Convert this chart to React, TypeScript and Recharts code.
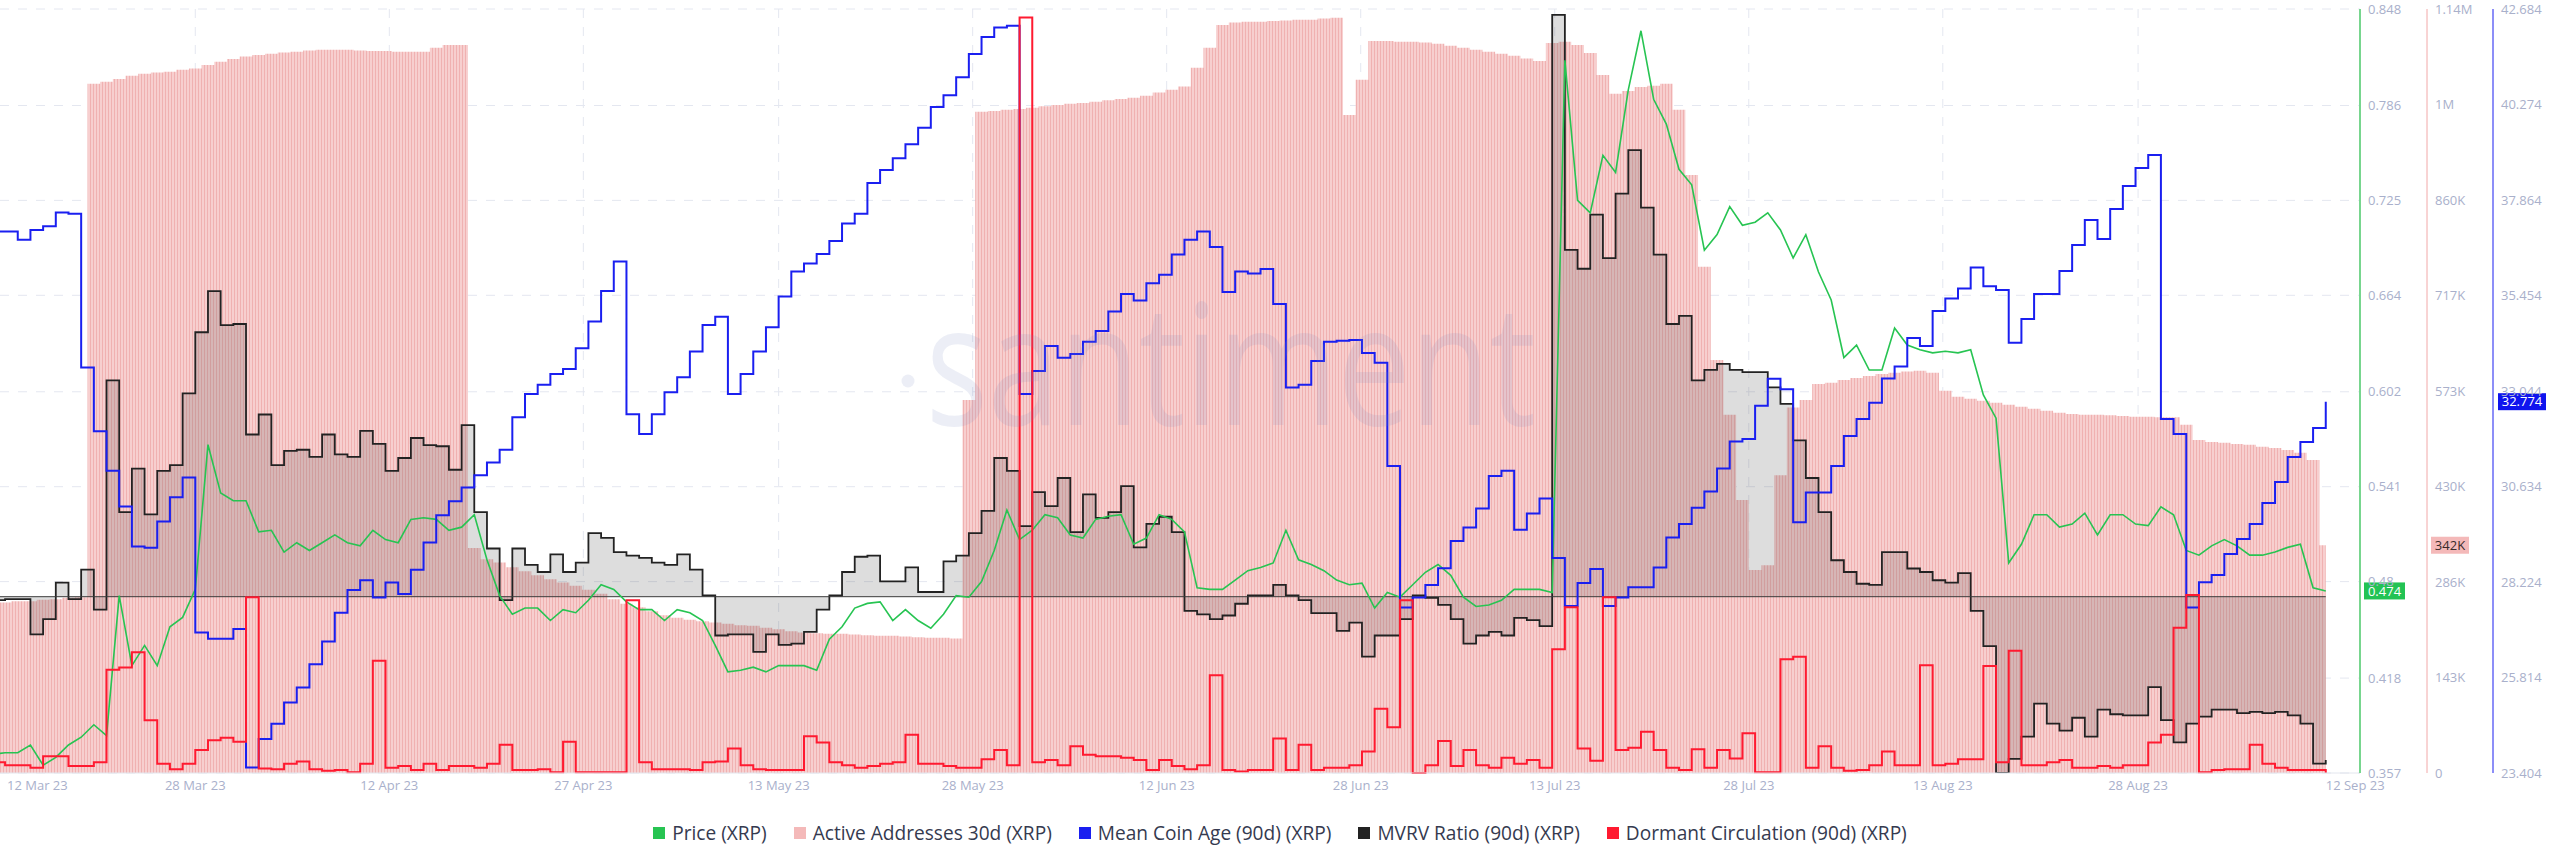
import React from 'react';
import {
  ComposedChart,
  Area,
  Line,
  XAxis,
  YAxis,
  CartesianGrid,
  ReferenceLine,
  Legend,
} from 'recharts';

// one value per day, index 0 = 12 Mar 23 ... index 184 = 12 Sep 23
const price = [
  0.369, 0.37, 0.37, 0.375, 0.362, 0.367, 0.375, 0.38, 0.388, 0.381,
  0.471, 0.426, 0.439, 0.426, 0.451, 0.457, 0.475, 0.568, 0.537, 0.532,
  0.532, 0.512, 0.513, 0.499, 0.505, 0.5, 0.505, 0.51, 0.505, 0.503,
  0.513, 0.507, 0.505, 0.52, 0.521, 0.52, 0.513, 0.515, 0.523, 0.494,
  0.471, 0.459, 0.463, 0.463, 0.455, 0.462, 0.46, 0.468, 0.478, 0.475,
  0.467, 0.462, 0.462, 0.455, 0.462, 0.46, 0.455, 0.439, 0.422, 0.423,
  0.425, 0.422, 0.426, 0.426, 0.426, 0.423, 0.443, 0.451, 0.463, 0.466,
  0.467, 0.455, 0.462, 0.455, 0.45, 0.459, 0.471, 0.47, 0.48, 0.5,
  0.526, 0.507, 0.513, 0.523, 0.521, 0.51, 0.508, 0.52, 0.522, 0.523,
  0.504, 0.508, 0.523, 0.52, 0.512, 0.476, 0.475, 0.475, 0.481, 0.487,
  0.489, 0.492, 0.513, 0.494, 0.491, 0.487, 0.481, 0.478, 0.479, 0.463,
  0.473, 0.47, 0.478, 0.486, 0.491, 0.484, 0.47, 0.464, 0.465, 0.468,
  0.475, 0.475, 0.475, 0.473, 0.815, 0.725, 0.717, 0.754, 0.743, 0.796,
  0.834, 0.79, 0.774, 0.745, 0.735, 0.693, 0.703, 0.721, 0.709, 0.711,
  0.717, 0.706, 0.688, 0.703, 0.679, 0.661, 0.624, 0.632, 0.616, 0.616,
  0.643, 0.632, 0.629, 0.627, 0.628, 0.627, 0.629, 0.6, 0.585, 0.492,
  0.504, 0.523, 0.523, 0.515, 0.517, 0.524, 0.51, 0.523, 0.523, 0.517,
  0.516, 0.528, 0.523, 0.5, 0.497, 0.503, 0.507, 0.503, 0.497, 0.497,
  0.499, 0.502, 0.504, 0.476, 0.474,
];

// thousands of addresses
const activeAddressesK = [
  256, 256, 258, 258, 260, 261, 263, 264, 1035, 1038,
  1042, 1047, 1050, 1052, 1053, 1056, 1058, 1063, 1068, 1072,
  1076, 1078, 1080, 1082, 1083, 1085, 1086, 1086, 1086, 1085,
  1084, 1084, 1083, 1083, 1083, 1089, 1093, 1093, 338, 321,
  316, 309, 303, 297, 291, 286, 281, 275, 269, 261,
  254, 249, 243, 237, 233, 230, 228, 226, 224, 222,
  221, 218, 216, 213, 211, 210, 209, 209, 208, 207,
  206, 206, 205, 204, 203, 203, 202, 560, 993, 994,
  996, 997, 999, 1001, 1003, 1005, 1006, 1008, 1010, 1012,
  1014, 1017, 1022, 1026, 1031, 1059, 1089, 1123, 1127, 1128,
  1128, 1129, 1130, 1131, 1131, 1133, 1134, 988, 1041, 1099,
  1099, 1098, 1098, 1097, 1095, 1092, 1089, 1086, 1083, 1080,
  1077, 1073, 1069, 1096, 1098, 1093, 1081, 1048, 1020, 1024,
  1030, 1032, 1035, 996, 898, 760, 620, 538, 410, 305,
  312, 447, 549, 560, 584, 586, 590, 593, 596, 599,
  601, 603, 604, 601, 574, 565, 562, 559, 556, 553,
  550, 547, 544, 541, 539, 538, 538, 537, 536, 535,
  535, 534, 534, 523, 500, 497, 496, 494, 493, 490,
  488, 485, 481, 470, 342,
];

const meanCoinAge = [
  37.07, 37.07, 36.86, 37.11, 37.2, 37.55, 37.52, 33.64, 32.03, 31.03,
  30.13, 29.12, 29.09, 29.75, 30.36, 30.86, 26.95, 26.79, 26.79, 27.04,
  23.54, 24.26, 24.65, 25.18, 25.56, 26.15, 26.72, 27.45, 28.02, 28.27,
  27.83, 28.21, 27.92, 28.53, 29.22, 29.91, 30.26, 30.61, 30.92, 31.24,
  31.56, 32.38, 32.97, 33.2, 33.47, 33.6, 34.12, 34.8, 35.57, 36.31,
  32.46, 31.96, 32.46, 33.01, 33.39, 34.04, 34.71, 34.92, 32.97, 33.47,
  34.04, 34.65, 35.43, 36.06, 36.26, 36.5, 36.83, 37.27, 37.52, 38.29,
  38.62, 38.92, 39.27, 39.69, 40.21, 40.51, 40.96, 41.55, 41.98, 42.22,
  42.26, 32.97, 33.55, 34.18, 33.88, 33.98, 34.29, 34.56, 35.05, 35.49,
  35.33, 35.76, 35.98, 36.49, 36.86, 37.07, 36.68, 35.54, 36.06, 36.01,
  36.12, 35.24, 33.13, 33.2, 33.8, 34.29, 34.31, 34.33, 34.0, 33.76,
  31.15, 27.58, 27.83, 28.15, 28.57, 29.26, 29.6, 30.08, 30.9, 31.03,
  29.54, 29.95, 30.33, 28.83, 27.62, 28.2, 28.55, 27.62, 27.83, 28.09,
  28.09, 28.59, 29.35, 29.69, 30.1, 30.51, 31.09, 31.77, 31.83, 32.67,
  33.35, 33.09, 29.73, 30.48, 30.48, 31.15, 31.91, 32.34, 32.75, 33.36,
  33.66, 34.38, 34.18, 35.06, 35.38, 35.63, 36.16, 35.69, 35.59, 34.26,
  34.86, 35.49, 35.49, 36.07, 36.73, 37.36, 36.88, 37.64, 38.22, 38.67,
  39.0, 32.34, 31.96, 27.58, 28.22, 28.4, 28.93, 29.31, 29.69, 30.22,
  30.75, 31.38, 31.76, 32.11, 32.774,
];

const mvrvRatio = [
  0.997, 0.998, 0.998, 0.968, 0.981, 1.012, 0.998, 1.023, 0.989, 1.184,
  1.072, 1.109, 1.07, 1.107, 1.112, 1.173, 1.225, 1.26, 1.231, 1.232,
  1.138, 1.155, 1.112, 1.124, 1.125, 1.119, 1.138, 1.121, 1.119, 1.141,
  1.13, 1.107, 1.118, 1.135, 1.129, 1.128, 1.108, 1.146, 1.072, 1.041,
  0.997, 1.041, 1.027, 1.021, 1.036, 1.021, 1.029, 1.054, 1.05, 1.038,
  1.035, 1.033, 1.029, 1.027, 1.036, 1.023, 1.001, 0.967, 0.968, 0.968,
  0.953, 0.968, 0.959, 0.96, 0.97, 0.989, 1.001, 1.021, 1.034, 1.035,
  1.013, 1.013, 1.025, 1.004, 1.004, 1.03, 1.035, 1.054, 1.073, 1.118,
  1.107, 1.06, 1.089, 1.077, 1.101, 1.055, 1.087, 1.067, 1.072, 1.094,
  1.042, 1.062, 1.068, 1.055, 0.988, 0.985, 0.981, 0.984, 0.994, 1.001,
  1.001, 1.01, 1.001, 0.997, 0.986, 0.986, 0.971, 0.978, 0.949, 0.967,
  0.967, 0.981, 1.001, 0.999, 0.993, 0.981, 0.96, 0.967, 0.97, 0.967,
  0.982, 0.98, 0.975, 1.495, 1.295, 1.279, 1.325, 1.288, 1.343, 1.38,
  1.331, 1.291, 1.232, 1.239, 1.184, 1.193, 1.198, 1.193, 1.191, 1.191,
  1.178, 1.164, 1.133, 1.101, 1.072, 1.031, 1.021, 1.011, 1.01, 1.038,
  1.038, 1.024, 1.021, 1.014, 1.012, 1.02, 0.988, 0.958, 0.85, 0.862,
  0.881, 0.909, 0.892, 0.886, 0.897, 0.881, 0.904, 0.9, 0.899, 0.899,
  0.923, 0.895, 0.876, 0.892, 0.898, 0.904, 0.904, 0.901, 0.902, 0.901,
  0.902, 0.899, 0.892, 0.858, 0.861,
];

// millions of XRP
const dormantCirculation = [
  14, 10, 10, 7, 22, 22, 9, 9, 14, 135,
  138, 158, 69, 12, 5, 12, 30, 43, 46, 41,
  230, 6, 5, 12, 15, 5, 3, 4, 1, 12,
  147, 7, 9, 4, 12, 4, 9, 9, 7, 12,
  37, 4, 4, 5, 1, 41, 1, 1, 1, 1,
  226, 14, 5, 5, 5, 4, 14, 15, 32, 10,
  5, 4, 4, 4, 48, 40, 14, 10, 7, 9,
  12, 14, 50, 12, 12, 9, 7, 7, 18, 30,
  10, 989, 14, 17, 10, 35, 24, 22, 22, 20,
  17, 4, 17, 9, 5, 10, 128, 4, 2, 4,
  4, 45, 4, 37, 4, 7, 7, 10, 28, 84,
  60, 226, 0, 10, 42, 9, 30, 10, 7, 20,
  12, 17, 7, 162, 217, 32, 16, 230, 30, 33,
  54, 30, 7, 4, 31, 7, 30, 19, 52, 1,
  1, 149, 152, 7, 35, 7, 3, 4, 10, 28,
  10, 10, 141, 10, 12, 18, 18, 140, 14, 160,
  10, 10, 14, 17, 7, 7, 9, 7, 10, 10,
  40, 50, 190, 233, 1, 4, 5, 5, 37, 12,
  7, 4, 4, 4, 0,
];

// x ticks (day index) with their labels; first and last are the range ends
const dateTicks = [0.6, 16, 31.3, 46.6, 62, 77.3, 92.6, 107.9, 123.2, 138.5, 153.8, 169.2, 184];
const dateLabels = [
  '12 Mar 23', '28 Mar 23', '12 Apr 23', '27 Apr 23', '13 May 23', '28 May 23', '12 Jun 23',
  '28 Jun 23', '13 Jul 23', '28 Jul 23', '13 Aug 23', '28 Aug 23', '12 Sep 23',
];
const gridTicks = dateTicks.slice(1, -1);

const priceTicks = [0.357, 0.418, 0.48, 0.541, 0.602, 0.664, 0.725, 0.786, 0.848];
const addressTicks = [0, 143400, 286800, 430200, 573600, 717000, 860400, 1003800, 1147200];
const coinAgeTicks = [23.404, 25.814, 28.224, 30.634, 33.044, 35.454, 37.864, 40.274, 42.684];

const C = {
  price: '#27c452',
  addr: '#f4b9b9',
  age: '#1a1ff0',
  mvrv: '#222222',
  dormant: '#ff1a30',
  tick: '#a9b0cb',
  grid: '#e4e7f0',
};

const legendItems = [
  { label: 'Price (XRP)', color: C.price },
  { label: 'Active Addresses 30d (XRP)', color: C.addr },
  { label: 'Mean Coin Age (90d) (XRP)', color: C.age },
  { label: 'MVRV Ratio (90d) (XRP)', color: C.mvrv },
  { label: 'Dormant Circulation (90d) (XRP)', color: C.dormant },
];

const data = price.map((p, i) => ({
  day: i,
  price: p,
  addresses: activeAddressesK[i] * 1000,
  age: meanCoinAge[i],
  mvrv: mvrvRatio[i],
  dormant: dormantCirculation[i],
}));

const last = data[data.length - 1];

const fmtAddr = (v: number) =>
  v === 0 ? '0' : v >= 1e6 ? `${Math.floor(v / 1e4) / 100}M` : `${Math.floor(v / 1000)}K`;

const DateTick = ({ x, y, payload }: any) => {
  const idx = dateTicks.indexOf(payload.value);
  const first = idx === 0;
  const end = idx === dateTicks.length - 1;
  return (
    <text
      x={first ? x + 7 : x}
      y={y}
      dy="0.71em"
      textAnchor={first || end ? 'start' : 'middle'}
      fill={C.tick}
      fontSize={13}
    >
      {dateLabels[idx] ?? ''}
    </text>
  );
};

// last-value tag drawn next to an axis
const badge = (text: string, dx: number, w: number, bg: string, fg: string) => (props: any) => {
  const vb = props.viewBox;
  const x = vb.x + vb.width + dx;
  return (
    <g>
      <rect x={x} y={vb.y - 8.5} width={w} height={17} fill={bg} />
      <text x={x + w / 2} y={vb.y} dy="0.36em" textAnchor="middle" fill={fg} fontSize={13}>
        {text}
      </text>
    </g>
  );
};

const renderLegend = () => (
  <div
    style={{
      display: 'flex',
      justifyContent: 'center',
      alignItems: 'center',
      gap: 27,
      height: 24,
      fontSize: 19.1,
      color: '#353a4f',
      whiteSpace: 'nowrap',
    }}
  >
    {legendItems.map((it) => (
      <div key={it.label} style={{ display: 'flex', alignItems: 'center' }}>
        <span style={{ width: 12, height: 12, background: it.color, marginRight: 7, display: 'inline-block' }} />
        {it.label}
      </div>
    ))}
  </div>
);

export default function App() {
  return (
    <div
      style={{
        position: 'absolute',
        left: 0,
        top: 0,
        width: 2560,
        height: 867,
        background: '#fff',
        fontFamily: "'Open Sans', sans-serif",
      }}
    >
      <ComposedChart width={2560} height={867} data={data} margin={{ top: 9, right: 0, bottom: 22, left: 0 }}>
        <defs>
          <pattern id="addrStripes" width={3} height={8} patternUnits="userSpaceOnUse">
            <rect width={3} height={8} fill="#f7cfcf" />
            <rect width={1} height={8} fill="#f0b1b1" />
          </pattern>
        </defs>
        <CartesianGrid
          yAxisId="y1price"
          horizontalValues={priceTicks}
          verticalValues={gridTicks}
          stroke={C.grid}
          strokeDasharray="9 9"
        />
        <XAxis
          type="number"
          dataKey="day"
          domain={[0.6, 186.7]}
          allowDataOverflow
          ticks={dateTicks}
          interval={0}
          tickLine={false}
          axisLine={{ stroke: '#e3e6ee' }}
          height={48}
          tick={<DateTick />}
        />
        <YAxis
          yAxisId="y1price"
          orientation="right"
          domain={[0.357, 0.848]}
          ticks={priceTicks}
          interval={0}
          width={67}
          tickLine={false}
          axisLine={{ stroke: '#78d68f', strokeWidth: 2 }}
          tick={{ fill: C.tick, fontSize: 13 }}
          tickFormatter={(v) => String(v)}
        />
        <YAxis
          yAxisId="y2addr"
          orientation="right"
          domain={[0, 1147200]}
          ticks={addressTicks}
          interval={0}
          width={66}
          tickLine={false}
          axisLine={{ stroke: '#f2a8a8' }}
          tick={{ fill: C.tick, fontSize: 13 }}
          tickFormatter={fmtAddr}
        />
        <YAxis
          yAxisId="y3age"
          orientation="right"
          domain={[23.404, 42.684]}
          ticks={coinAgeTicks}
          interval={0}
          width={67}
          tickLine={false}
          axisLine={{ stroke: C.age }}
          tick={{ fill: C.tick, fontSize: 13 }}
          tickFormatter={(v) => v.toFixed(3)}
        />
        <YAxis yAxisId="y4mvrv" hide domain={[0.85, 1.5]} allowDataOverflow />
        <YAxis yAxisId="y5dormant" hide domain={[0, 1000]} />

        <Area
          yAxisId="y2addr"
          dataKey="addresses"
          type="step"
          stroke="none"
          fill="url(#addrStripes)"
          fillOpacity={1}
          isAnimationActive={false}
          activeDot={false}
        />
        <Area
          yAxisId="y4mvrv"
          dataKey="mvrv"
          type="stepAfter"
          baseValue={1}
          stroke={C.mvrv}
          strokeWidth={1.8}
          fill="#555555"
          fillOpacity={0.2}
          isAnimationActive={false}
          activeDot={false}
        />
        <ReferenceLine
          yAxisId="y4mvrv"
          segment={[{ x: 0.6, y: 1 }, { x: 184, y: 1 }]}
          stroke="#3b3b3b"
          strokeWidth={1}
        />
        <Line
          yAxisId="y1price"
          dataKey="price"
          type="linear"
          stroke={C.price}
          strokeWidth={1.6}
          dot={false}
          isAnimationActive={false}
        />
        <Line
          yAxisId="y3age"
          dataKey="age"
          type="stepAfter"
          stroke={C.age}
          strokeWidth={2}
          dot={false}
          isAnimationActive={false}
        />
        <Line
          yAxisId="y5dormant"
          dataKey="dormant"
          type="stepAfter"
          stroke={C.dormant}
          strokeWidth={2}
          dot={false}
          isAnimationActive={false}
        />

        <ReferenceLine
          yAxisId="y1price"
          y={last.price}
          stroke="none"
          label={badge(last.price.toFixed(3), 4, 41, '#22c354', '#ffffff')}
        />
        <ReferenceLine
          yAxisId="y2addr"
          y={last.addresses}
          stroke="none"
          label={badge(fmtAddr(last.addresses), 71, 38, C.addr, '#3a2a2a')}
        />
        <ReferenceLine
          yAxisId="y3age"
          y={last.age}
          stroke="none"
          label={badge(last.age.toFixed(3), 138, 48, '#0f14ee', '#ffffff')}
        />

        <Legend verticalAlign="bottom" height={24} content={renderLegend} />
      </ComposedChart>

      <svg
        width={2560}
        height={867}
        style={{ position: 'absolute', left: 0, top: 0, pointerEvents: 'none' }}
      >
        <g fill="rgb(120,135,190)" fillOpacity={0.14}>
          <circle cx={908} cy={381} r={6.5} />
          <text
            x={926}
            y={425}
            fontFamily="'Open Sans', sans-serif"
            fontSize={168}
            textLength={610}
            lengthAdjust="spacingAndGlyphs"
          >
            santiment
          </text>
        </g>
      </svg>
    </div>
  );
}
